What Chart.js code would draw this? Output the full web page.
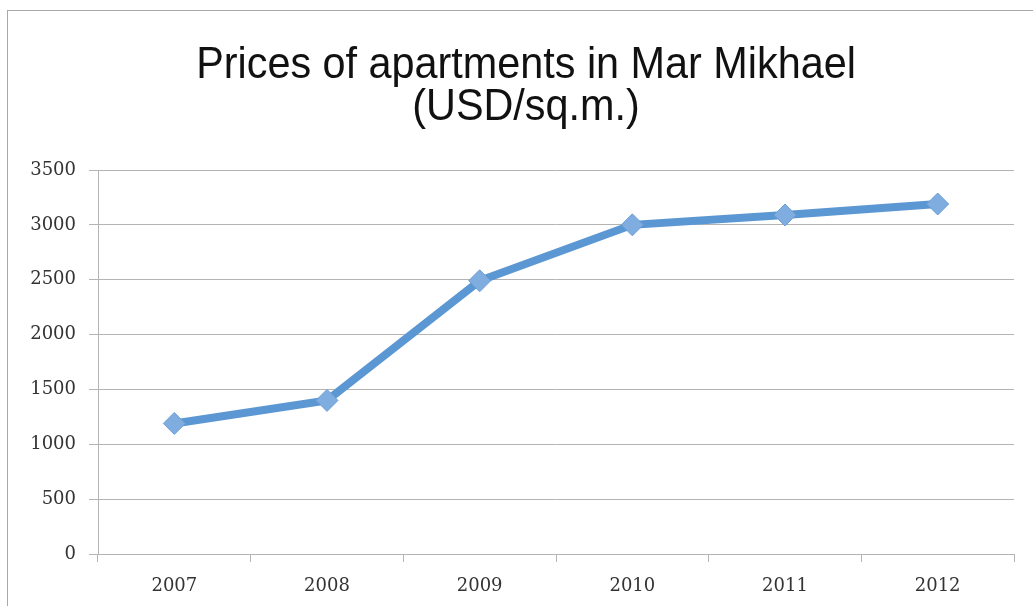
<!DOCTYPE html>
<html>
<head>
<meta charset="utf-8">
<script src="https://cdn.jsdelivr.net/npm/chart.js@4/dist/chart.umd.min.js"></script>
<style>
	html, body { margin:0; padding:0; background:#fff; }
</style>
</head>
<body>
<script>
const judul = ['Prices of apartments in Mar Mikhael', '(USD/sq.m.)']
const tahun = ['2007', '2008', '2009', '2010', '2011', '2012']
const harga = [1190, 1400, 2490, 3000, 3090, 3190]
const yTicks = [0, 500, 1000, 1500, 2000, 2500, 3000, 3500]

const el = o => {
	const a = document.createElement(o.a)
	if (o.c) a.textContent = o.c
	if (o.d) for (const k in o.d) a.setAttribute(k, o.d[k])
	o.b.appendChild(a)
	return a
}

// judul digambar sendiri supaya bisa dipadatkan (font narrow tidak ada)
const judulPlugin = {
	id: 'judulSempit',
	afterDraw: c => {
		const ctx = c.ctx
		ctx.save()
		ctx.fillStyle = '#111'
		ctx.font = '44px "Liberation Sans", sans-serif'
		ctx.textAlign = 'center'
		ctx.textBaseline = 'alphabetic'
		judul.forEach((t, i) => {
			ctx.save()
			ctx.translate(526, 78 + i * 42)
			ctx.scale(0.94, 1)
			ctx.fillText(t, 0, 0)
			ctx.restore()
		})
		ctx.restore()
	}
};

(a => {
	// bingkai abu-abu kiri & atas
	el({a:'div', b:a, d:{style:'position:absolute; left:7px; top:10px; width:1040px; height:620px; border:1px solid #a8a8a8; pointer-events:none;'} })

	const b = el({a:'canvas', b:a})
	b.width = 1033
	b.height = 606

	new Chart(b, {
		type: 'line',
		data: {
			labels: tahun,
			datasets: [{
				label: 'Price',
				data: harga,
				fill: false,
				borderColor: '#5b97d2',
				borderWidth: 8,
				tension: 0,
				pointStyle: 'rectRot',
				pointRadius: 11,
				pointBackgroundColor: '#80ade0',
				pointBorderColor: '#6d9fd6',
				pointBorderWidth: 1,
			}]
		},
		plugins: [judulPlugin],
		options: {
			responsive: false,
			animation: false,
			layout: { padding: { top: 170, right: 19, left: 0, bottom: 0 } },
			plugins: {
				legend: { display: false },
				tooltip: { enabled: false },
				title: { display: false },
			},
			scales: {
				y: {
					min: 0,
					max: 3500,
					afterBuildTicks: s => { s.ticks = yTicks.map(v => ({ value: v })) },
					afterFit: s => { s.width = 98 },
					border: { color: '#b4b4b4', width: 1 },
					grid: { color: '#b4b4b4', lineWidth: 1, tickLength: 9 },
					ticks: {
						color: '#333',
						padding: 13,
						font: { family: '"DejaVu Serif", serif', size: 18 },
						callback: v => String(v),
					}
				},
				x: {
					offset: true,
					afterFit: s => { s.height = 52 },
					border: { color: '#b4b4b4', width: 1 },
					grid: { offset: true, drawOnChartArea: false, color: '#b4b4b4', tickLength: 8 },
					ticks: {
						color: '#333',
						padding: 14,
						font: { family: '"DejaVu Serif", serif', size: 18 },
					}
				}
			},
		}
	})
})(el({a:'div', b:document.body, d:{style:'position:relative; width:1033px; height:606px; overflow:hidden;'} }))
</script>
</body>
</html>
